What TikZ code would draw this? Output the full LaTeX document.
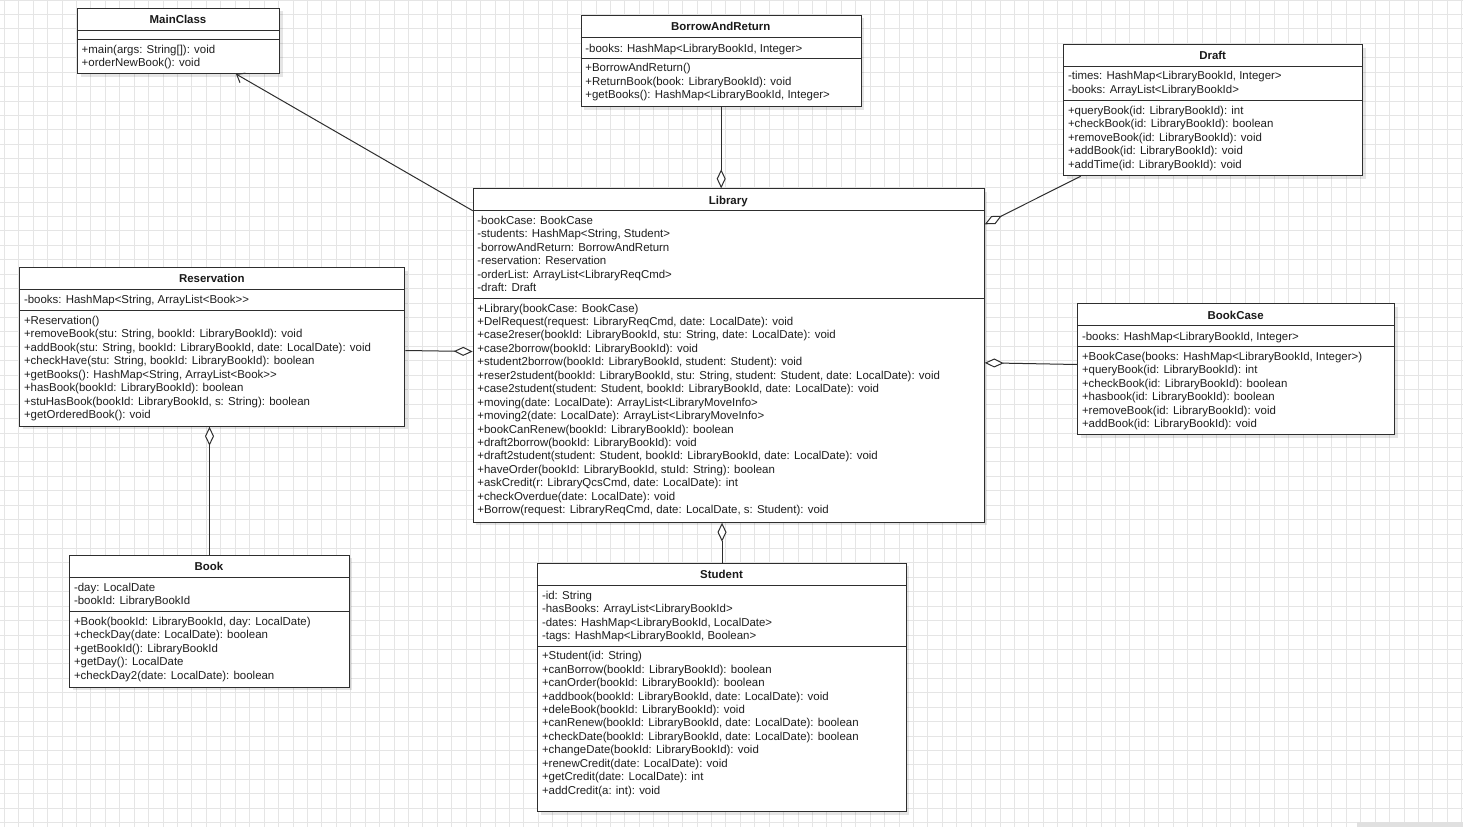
\documentclass[tikz,border=0pt]{standalone}
\usepackage{fontspec}
\setmainfont{Liberation Sans}
\usetikzlibrary{arrows.meta,calc,shadows}
\newcommand\umlfont{\fontsize{11.45}{13.45}\selectfont}
% #1 name, #2 x1, #3 y1, #4 x2, #5 y2, #6 sep1, #7 sep2, #8 title
\newcommand\umlclass[8]{%
  \node[classbox, minimum width={(#4-#2)*1pt}, minimum height={(#5-#3)*1pt}] (#1) at (#2,#3) {};
  \node[titletext] (#1-title) at ({(#2+#4)/2},{(#3+#6)/2+4.6}) {#8};
  \draw[sepline] (#2,#6) -- (#4,#6);
  \draw[sepline] (#2,#7) -- (#4,#7);
  \coordinate (#1-a) at ({#2+4.5},{#6+5.2});
  \coordinate (#1-m) at ({#2+4.5},{#7+5.2});
}
\tikzset{
  classbox/.style={draw=black!82, line width=1pt, fill=white, anchor=north west, inner sep=0pt,
    drop shadow={shadow xshift=3pt, shadow yshift=-3pt, fill=black, opacity=0.10}},
  titletext/.style={anchor=base, inner sep=0pt, font=\umlfont\bfseries, text=black!90},
  sepline/.style={draw=black!82, line width=1pt},
  members/.style={anchor=north west, inner sep=0pt, align=left, font=\umlfont, text=black!88,
    execute at begin node=\strut},
  gridline/.style={draw=black!10, line width=0.8pt},
  agg/.style={draw=black!82, line width=1pt, -{Diamond[fill=white, length=19pt, width=9pt]}},
  assoc/.style={draw=black!82, line width=1pt, -{Straight Barb[length=7pt, width=11pt]}}
}
\begin{document}
\begin{tikzpicture}[x=1pt, y=-1pt]
\useasboundingbox (0,0) rectangle (1463,827);
\fill[white] (0,0) rectangle (1463,827);
% background grid
\foreach \i in {0,...,101} {\draw[gridline] ({4.3+\i*14.43},0) -- ({4.3+\i*14.43},827);}
\foreach \j in {0,...,57} {\draw[gridline] (0,{\j*14.43}) -- (1463,{\j*14.43});}
\fill[black!12] (1357,822) rectangle (1463,827);

% MainClass
\umlclass{main}{77}{7.5}{279}{73}{30}{39.5}{MainClass}
\node[members] (main-ms) at (main-m) {+main(args: String[]): void\\+orderNewBook(): void};

% BorrowAndReturn
\umlclass{bar}{580.7}{14.7}{860.7}{106}{37.7}{58}{BorrowAndReturn}
\node[members] (bar-as) at (bar-a) {-books: HashMap<LibraryBookId, Integer>};
\node[members] (bar-ms) at (bar-m) {+BorrowAndReturn()\\+ReturnBook(book: LibraryBookId): void\\+getBooks(): HashMap<LibraryBookId, Integer>};

% Draft
\umlclass{draft}{1063.3}{44}{1362}{175.3}{66.3}{100.7}{Draft}
\node[members] (draft-as) at (draft-a) {-times: HashMap<LibraryBookId, Integer>\\-books: ArrayList<LibraryBookId>};
\node[members] (draft-ms) at (draft-m) {+queryBook(id: LibraryBookId): int\\+checkBook(id: LibraryBookId): boolean\\+removeBook(id: LibraryBookId): void\\+addBook(id: LibraryBookId): void\\+addTime(id: LibraryBookId): void};

% Library
\umlclass{lib}{472.7}{188.3}{983.8}{521.7}{210.7}{298.3}{Library}
\node[members] (lib-as) at (lib-a) {-bookCase: BookCase\\-students: HashMap<String, Student>\\-borrowAndReturn: BorrowAndReturn\\-reservation: Reservation\\-orderList: ArrayList<LibraryReqCmd>\\-draft: Draft};
\node[members] (lib-ms) at (lib-m) {+Library(bookCase: BookCase)\\
+DelRequest(request: LibraryReqCmd, date: LocalDate): void\\
+case2reser(bookId: LibraryBookId, stu: String, date: LocalDate): void\\
+case2borrow(bookId: LibraryBookId): void\\
+student2borrow(bookId: LibraryBookId, student: Student): void\\
+reser2student(bookId: LibraryBookId, stu: String, student: Student, date: LocalDate): void\\
+case2student(student: Student, bookId: LibraryBookId, date: LocalDate): void\\
+moving(date: LocalDate): ArrayList<LibraryMoveInfo>\\
+moving2(date: LocalDate): ArrayList<LibraryMoveInfo>\\
+bookCanRenew(bookId: LibraryBookId): boolean\\
+draft2borrow(bookId: LibraryBookId): void\\
+draft2student(student: Student, bookId: LibraryBookId, date: LocalDate): void\\
+haveOrder(bookId: LibraryBookId, stuId: String): boolean\\
+askCredit(r: LibraryQcsCmd, date: LocalDate): int\\
+checkOverdue(date: LocalDate): void\\
+Borrow(request: LibraryReqCmd, date: LocalDate, s: Student): void};

% Reservation
\umlclass{res}{19.3}{267.3}{404.3}{425.7}{289}{310.7}{Reservation}
\node[members] (res-as) at (res-a) {-books: HashMap<String, ArrayList<Book>{}>};
\node[members] (res-ms) at (res-m) {+Reservation()\\
+removeBook(stu: String, bookId: LibraryBookId): void\\
+addBook(stu: String, bookId: LibraryBookId, date: LocalDate): void\\
+checkHave(stu: String, bookId: LibraryBookId): boolean\\
+getBooks(): HashMap<String, ArrayList<Book>{}>\\
+hasBook(bookId: LibraryBookId): boolean\\
+stuHasBook(bookId: LibraryBookId, s: String): boolean\\
+getOrderedBook(): void};

% BookCase
\umlclass{bcase}{1077.3}{303.3}{1394}{434.3}{325.7}{346.7}{BookCase}
\node[members] (bcase-as) at (bcase-a) {-books: HashMap<LibraryBookId, Integer>};
\node[members] (bcase-ms) at (bcase-m) {+BookCase(books: HashMap<LibraryBookId, Integer>)\\
+queryBook(id: LibraryBookId): int\\
+checkBook(id: LibraryBookId): boolean\\
+hasbook(id: LibraryBookId): boolean\\
+removeBook(id: LibraryBookId): void\\
+addBook(id: LibraryBookId): void};

% Book
\umlclass{book}{69.3}{554.7}{348.7}{686.7}{577.3}{611.7}{Book}
\node[members] (book-as) at (book-a) {-day: LocalDate\\-bookId: LibraryBookId};
\node[members] (book-ms) at (book-m) {+Book(bookId: LibraryBookId, day: LocalDate)\\
+checkDay(date: LocalDate): boolean\\
+getBookId(): LibraryBookId\\
+getDay(): LocalDate\\
+checkDay2(date: LocalDate): boolean};

% Student
\umlclass{stu}{537.3}{562.7}{905.7}{811.3}{585.7}{646}{Student}
\node[members] (stu-as) at (stu-a) {-id: String\\-hasBooks: ArrayList<LibraryBookId>\\-dates: HashMap<LibraryBookId, LocalDate>\\-tags: HashMap<LibraryBookId, Boolean>};
\node[members] (stu-ms) at (stu-m) {+Student(id: String)\\
+canBorrow(bookId: LibraryBookId): boolean\\
+canOrder(bookId: LibraryBookId): boolean\\
+addbook(bookId: LibraryBookId, date: LocalDate): void\\
+deleBook(bookId: LibraryBookId): void\\
+canRenew(bookId: LibraryBookId, date: LocalDate): boolean\\
+checkDate(bookId: LibraryBookId, date: LocalDate): boolean\\
+changeDate(bookId: LibraryBookId): void\\
+renewCredit(date: LocalDate): void\\
+getCredit(date: LocalDate): int\\
+addCredit(a: int): void};

% connectors
\coordinate (libhl) at ($(lib.north west)+(0,22.4)$);
\draw[assoc] (libhl) -- (main);
\draw[agg] (bar.south) -- (bar.south |- lib.north);
\draw[agg] ($(draft.south west)+(17.4,0)$) -- ($(lib.north east)+(0,36)$);
\draw[agg] ($(res.east)+(0,3.5)$) -- ($(lib.west)+(0,-4)$);
\draw[agg] ($(bcase.west)+(0,-4.8)$) -- ($(lib.east)+(0,7.3)$);
\draw[agg] (stu.north) -- (stu.north |- lib.south);
\draw[agg] (book.north) -- (book.north |- res.south);
\end{tikzpicture}
\end{document}
